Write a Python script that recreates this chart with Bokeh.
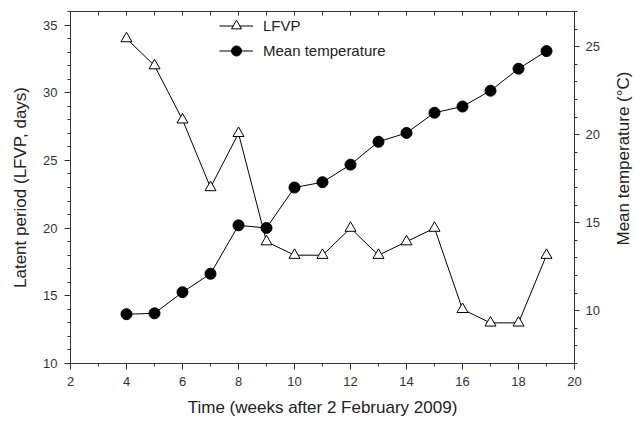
import math
from bokeh.plotting import figure
from bokeh.layouts import row
from bokeh.models import (Range1d, LinearAxis, SingleIntervalTicker, Legend, LegendItem, Label)
from bokeh.embed import file_html
from bokeh.resources import INLINE

weeks = [4, 5, 6, 7, 8, 9, 10, 11, 12, 13, 14, 15, 16, 17, 18, 19]
lfvp = [34, 32, 28, 23, 27, 19, 18, 18, 20, 18, 19, 20, 14, 13, 13, 18]
mean_temp = [9.8, 9.85, 11.05, 12.1, 14.85, 14.7, 17.0, 17.3, 18.3, 19.6, 20.1, 21.25, 21.6, 22.5, 23.75, 24.75]

x_label = "Time (weeks after 2 February 2009)"
y_label = "Latent period (LFVP, days)"
y2_label = "Mean temperature (°C)"

FONT = "Liberation Sans"
AX = "#333333"

p = figure(width=602, height=425, output_backend="svg", toolbar_location=None,
           x_range=Range1d(2, 20), y_range=Range1d(10, 36),
           min_border_left=70, min_border_right=28, min_border_top=11, min_border_bottom=62,
           x_axis_location=None, y_axis_location=None)
p.xgrid.visible = False
p.ygrid.visible = False
p.outline_line_color = AX
p.outline_line_width = 1
p.extra_y_ranges = {"temp": Range1d(7, 27)}

def style(ax, tin=0, tout=6, mout=3):
    ax.axis_line_color = AX
    ax.major_tick_line_color = AX
    ax.minor_tick_line_color = AX
    ax.major_tick_in = tin
    ax.major_tick_out = tout
    ax.minor_tick_in = 0
    ax.minor_tick_out = mout
    ax.major_label_text_font = FONT
    ax.major_label_text_font_size = "13px"
    ax.major_label_text_color = "#333333"
    ax.axis_label_text_font = FONT
    ax.axis_label_text_font_size = "17px"
    ax.axis_label_text_font_style = "normal"
    ax.axis_label_text_color = "#222222"
    ax.major_label_standoff = 7

xb = LinearAxis(ticker=SingleIntervalTicker(interval=2, num_minor_ticks=2), axis_label=x_label)
style(xb)
xb.axis_label_standoff = 9
p.add_layout(xb, "below")

xt = LinearAxis(ticker=SingleIntervalTicker(interval=1, num_minor_ticks=0))
style(xt, tin=4, tout=0, mout=0)
xt.major_label_text_font_size = "0px"
xt.major_label_text_alpha = 0
p.add_layout(xt, "above")

yl = LinearAxis(ticker=SingleIntervalTicker(interval=5, num_minor_ticks=5), axis_label=y_label)
style(yl)
yl.axis_label_standoff = 10
p.add_layout(yl, "left")

yr = LinearAxis(y_range_name="temp", ticker=SingleIntervalTicker(interval=5, num_minor_ticks=5))
style(yr, tout=5)
yr.major_label_standoff = 6
p.add_layout(yr, "right")

l1 = p.line(weeks, lfvp, line_color="black", line_width=1)
s1 = p.scatter(weeks, lfvp, marker="triangle", size=11, fill_color="white", line_color="black", line_width=1)
l2 = p.line(weeks, mean_temp, y_range_name="temp", line_color="black", line_width=1)
s2 = p.scatter(weeks, mean_temp, y_range_name="temp", marker="circle", size=11, fill_color="black", line_color="black")

leg = Legend(items=[LegendItem(label="LFVP", renderers=[l1, s1]),
                    LegendItem(label="Mean temperature", renderers=[l2, s2])],
             location=(149, 300))
leg.glyph_width = 34
leg.glyph_height = 25
leg.spacing = -7
leg.padding = 0
leg.margin = 0
leg.label_standoff = 10
leg.label_text_font = FONT
leg.label_text_font_size = "15px"
leg.label_text_color = "#222222"
leg.border_line_alpha = 0
leg.background_fill_alpha = 0
p.add_layout(leg, "center")

# narrow side panel carrying the right-hand axis title
p2 = figure(width=32, height=425, output_backend="svg", toolbar_location=None,
            x_range=Range1d(0, 1), y_range=Range1d(0, 1), min_border=0,
            x_axis_location=None, y_axis_location=None)
p2.xgrid.visible = False
p2.ygrid.visible = False
p2.outline_line_color = None
y2_title = Label(x=21, y=205, x_units="screen", y_units="screen", text=y2_label,
                 angle=math.pi / 2, text_align="center", text_baseline="middle",
                 text_font=FONT, text_font_size="17px", text_color="#222222")
p2.add_layout(y2_title)

layout = row(p, p2, spacing=0)
open("out.html", "w").write(file_html(layout, INLINE))
